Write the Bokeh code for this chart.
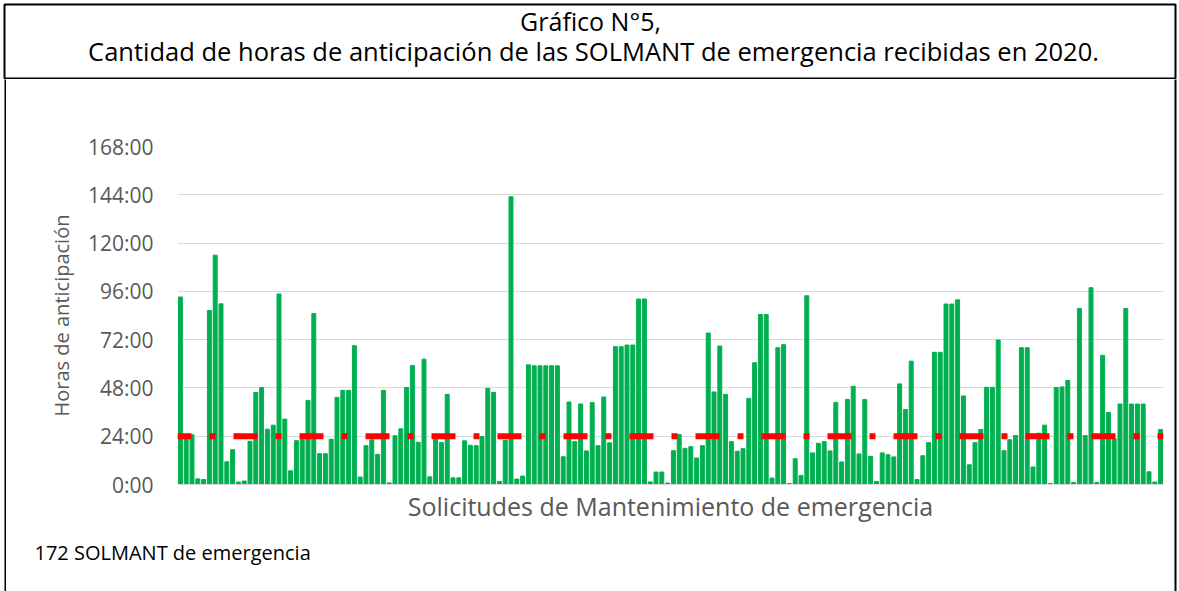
from bokeh.plotting import figure
from bokeh.layouts import column, row
from bokeh.models import FixedTicker, PrintfTickFormatter, Span, Label, Range1d
from bokeh.embed import file_html
from bokeh.resources import INLINE

# Hours of anticipation per emergency maintenance request
horas = [
    93.2, 23.5, 24.7, 2.8, 2.5, 86.5, 114, 89.8, 11.3, 17.3,
    1.2, 1.7, 21.5, 45.7, 48.2, 27.5, 29.5, 94.7, 32.5, 6.8,
    21.8, 22.5, 41.8, 85, 15.3, 15.3, 22.5, 43.3, 46.8, 46.8,
    69, 3.7, 19.3, 22.2, 15, 46.8, 0.8, 24.2, 27.7, 48.2,
    59.2, 21, 62.3, 3.8, 22.5, 20.8, 44.8, 3.3, 3.3, 21.7,
    19.5, 19.3, 23.8, 47.8, 45.8, 1.5, 22, 143, 2.7, 4.2,
    59.5, 59, 59, 59, 59, 59, 13.8, 41, 21.3, 40,
    16.7, 40.7, 19.3, 43.5, 20.7, 68.5, 68.5, 69.3, 69.3, 92.2,
    92.2, 1.3, 6.2, 6.2, 0.7, 16.8, 24.8, 18, 18.8, 13.2,
    19.3, 75.3, 46, 68.8, 44.8, 21.3, 16.5, 17.8, 42.8, 60.5,
    84.5, 84.5, 3.2, 68, 69.5, 0.5, 12.8, 4.5, 93.8, 15.7,
    20.5, 21.3, 16.7, 40.8, 11.2, 42.3, 48.8, 15.2, 42.2, 14,
    1.5, 15.7, 14.8, 13.7, 50, 37.3, 61.3, 2.5, 14.3, 20.8,
    65.7, 65.7, 89.7, 89.7, 91.8, 44, 9.8, 20.8, 27.3, 48.3,
    48.3, 71.8, 16.8, 22.2, 24.3, 68, 68, 8.7, 25.5, 29.5,
    0.5, 48.2, 48.5, 51.7, 1, 87.5, 24.3, 97.8, 1, 64.2,
    35.8, 22.7, 40, 87.5, 40, 40, 40, 6.3, 1.2, 27.3,
]
solicitudes = list(range(1, len(horas) + 1))
meta_horas = 24
y_ticks = [0, 24, 48, 72, 96, 120, 144, 168]

titulo_1 = "Gráfico N°5,"
titulo_2 = "Cantidad de horas de anticipación de las SOLMANT de emergencia recibidas en 2020."
nota = "172 SOLMANT de emergencia"
eje_x = "Solicitudes de Mantenimiento de emergencia"
eje_y = "Horas de anticipación"

FONT = "Open Sans"
GRAY = "#595959"
GRID = "#d9d9d9"


def blank(width, height, **kw):
    f = figure(width=width, height=height, output_backend="svg", toolbar_location=None,
               x_axis_location=None, y_axis_location=None, **kw)
    f.grid.visible = False
    f.outline_line_color = None
    f.background_fill_color = "white"
    f.border_fill_color = "white"
    return f


def strip(height, left, right):
    s = blank(6, height, x_range=Range1d(0, 1), y_range=Range1d(0, 1),
              min_border_left=left, min_border_right=right,
              min_border_top=0, min_border_bottom=0)
    s.background_fill_color = "black"
    return s


# ---- title box (top) ----
ft = blank(1179, 79, x_range=Range1d(4, 1175), y_range=Range1d(78, 4),
           min_border_left=4, min_border_right=4, min_border_top=4, min_border_bottom=1)
ft.outline_line_color = "black"
ft.outline_line_width = 2
ft.add_layout(Label(x=590, y=20, text=titulo_1, text_align="center", text_baseline="middle",
                    text_font=FONT, text_font_size="25px", text_color="black"))
ft.add_layout(Label(x=593, y=50, text=titulo_2, text_align="center", text_baseline="middle",
                    text_font=FONT, text_font_size="25.5px", text_color="black"))

# ---- main chart ----
p = figure(x_range=Range1d(0.5, len(horas) + 0.5), y_range=Range1d(0, 168),
           width=1167, height=451, output_backend="svg", toolbar_location=None,
           min_border_left=171, min_border_right=10, min_border_top=67, min_border_bottom=46)
p.background_fill_color = "white"
p.border_fill_color = "white"
p.outline_line_color = None

p.vbar(x=solicitudes, top=horas, width=0.68, color="#00b050")
p.add_layout(Span(location=meta_horas, dimension="width", line_color="#ff0000",
                  line_width=6, line_dash="24 18 6 18", line_dash_offset=10))

p.xgrid.grid_line_color = None
p.ygrid.grid_line_color = GRID
p.ygrid.grid_line_width = 1

p.yaxis.ticker = FixedTicker(ticks=y_ticks)
p.yaxis.formatter = PrintfTickFormatter(format="%d:00")
p.yaxis.axis_line_color = None
p.yaxis.major_tick_line_color = None
p.yaxis.minor_tick_line_color = None
p.yaxis.major_tick_out = 0
p.yaxis.major_tick_in = 0
p.yaxis.major_label_text_font = FONT
p.yaxis.major_label_text_font_size = "21px"
p.yaxis.major_label_text_color = GRAY
p.yaxis.major_label_standoff = 24
p.yaxis.axis_label = eje_y
p.yaxis.axis_label_text_font = FONT
p.yaxis.axis_label_text_font_size = "20px"
p.yaxis.axis_label_text_font_style = "normal"
p.yaxis.axis_label_text_color = GRAY
p.yaxis.axis_label_standoff = 10

p.xaxis.ticker = FixedTicker(ticks=[])
p.xaxis.axis_line_color = GRID
p.xaxis.major_tick_line_color = None
p.xaxis.minor_tick_line_color = None
p.xaxis.major_tick_out = 0
p.xaxis.major_tick_in = 0
p.xaxis.major_label_standoff = 0
p.xaxis.axis_label = eje_x
p.xaxis.axis_label_text_font = FONT
p.xaxis.axis_label_text_font_size = "25px"
p.xaxis.axis_label_text_font_style = "normal"
p.xaxis.axis_label_text_color = GRAY
p.xaxis.axis_label_standoff = 4

# ---- footer ----
ff = blank(1167, 61, x_range=Range1d(6, 1173), y_range=Range1d(591, 530),
           min_border_left=0, min_border_right=0, min_border_top=0, min_border_bottom=0)
ff.add_layout(Label(x=34, y=552, text=nota, text_align="left", text_baseline="middle",
                    text_font=FONT, text_font_size="20px", text_color="black"))

layout = column(
    ft,
    row(strip(512, 4, 0),
        column(column(p, spacing=0), column(ff, spacing=0), spacing=0),
        strip(512, 1, 3), spacing=0),
    spacing=0,
)

open("out.html", "w").write(file_html(layout, INLINE))
